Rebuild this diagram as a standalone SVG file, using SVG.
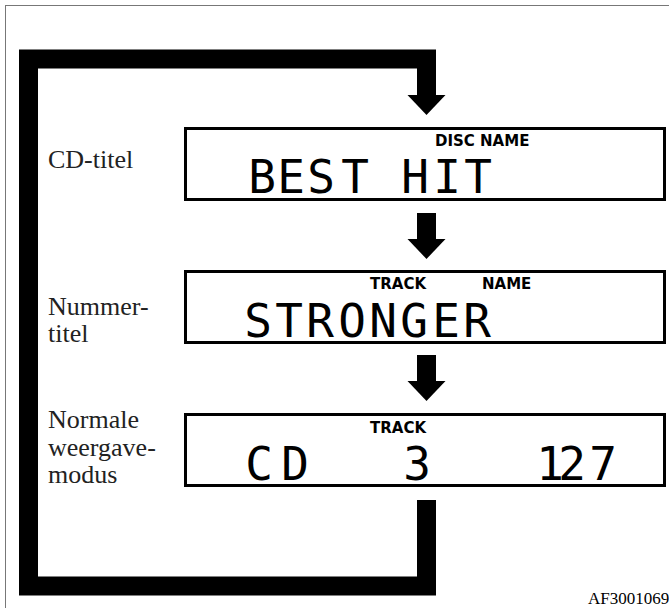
<svg xmlns="http://www.w3.org/2000/svg" width="669" height="608" viewBox="0 0 669 608">
<style>
.frame{fill:none;stroke:#777;stroke-width:1}
.box{fill:#fff;stroke:#000;stroke-width:3}
.lbl{font-family:"Liberation Serif","Times New Roman",serif;font-size:26px;fill:#222}
.ind{font-family:"DejaVu Sans","Liberation Sans",sans-serif;font-weight:bold;font-size:15px;fill:#000}
.lcd{font-family:"DejaVu Sans Mono","Liberation Mono",monospace;font-size:46px;fill:#000;text-anchor:middle}
.bar{fill:none;stroke:#000;stroke-width:19;stroke-linejoin:miter}
.code{font-family:"Liberation Serif","Times New Roman",serif;font-size:17px;fill:#000}
</style>
<defs>
<marker id="head" markerUnits="userSpaceOnUse" viewBox="0 0 20 38" markerWidth="20" markerHeight="38" refX="0" refY="19" orient="auto" overflow="visible">
<path d="M0,0 L20,19 L0,38 Z" fill="#000"/>
</marker>
</defs>
<rect width="669" height="608" fill="#fff"/>
<rect class="frame" x="5.5" y="5.5" width="700" height="700"/>

<g id="connectors">
<path class="bar" d="M426.5,500 V586 H28.5 V59 H426.5 V95" marker-end="url(#head)"/>
<path class="bar" d="M426.5,213 V239" marker-end="url(#head)"/>
<path class="bar" d="M426.5,355 V381" marker-end="url(#head)"/>
</g>

<g id="cd-titel">
<text class="lbl" x="48" y="168">CD-titel</text>
<rect class="box" x="185.5" y="128.5" width="479" height="71"/>
<text class="ind" x="435" y="146">DISC NAME</text>
<text class="lcd" x="262 291 321 355 385 415 447 478" y="193">BEST HIT</text>
</g>

<g id="nummer-titel">
<text class="lbl" x="48" y="315">Nummer-</text>
<text class="lbl" x="48" y="342">titel</text>
<rect class="box" x="185.5" y="271.5" width="479" height="71"/>
<text class="ind" x="370" y="289">TRACK</text>
<text class="ind" x="482" y="289">NAME</text>
<text class="lcd" x="258 289 320 352 383 414 446 477" y="337">STRONGER</text>
</g>

<g id="normale-weergave">
<text class="lbl" x="48" y="428">Normale</text>
<text class="lbl" x="48" y="456">weergave-</text>
<text class="lbl" x="48" y="483">modus</text>
<rect class="box" x="185.5" y="414.5" width="479" height="71"/>
<text class="ind" x="370" y="433">TRACK</text>
<text class="lcd" x="259 295" y="480">CD</text>
<text class="lcd" x="417" y="480">3</text>
<text class="lcd" x="550 572 603" y="480">127</text>
</g>

<text class="code" x="588" y="604">AF3001069</text>
</svg>
